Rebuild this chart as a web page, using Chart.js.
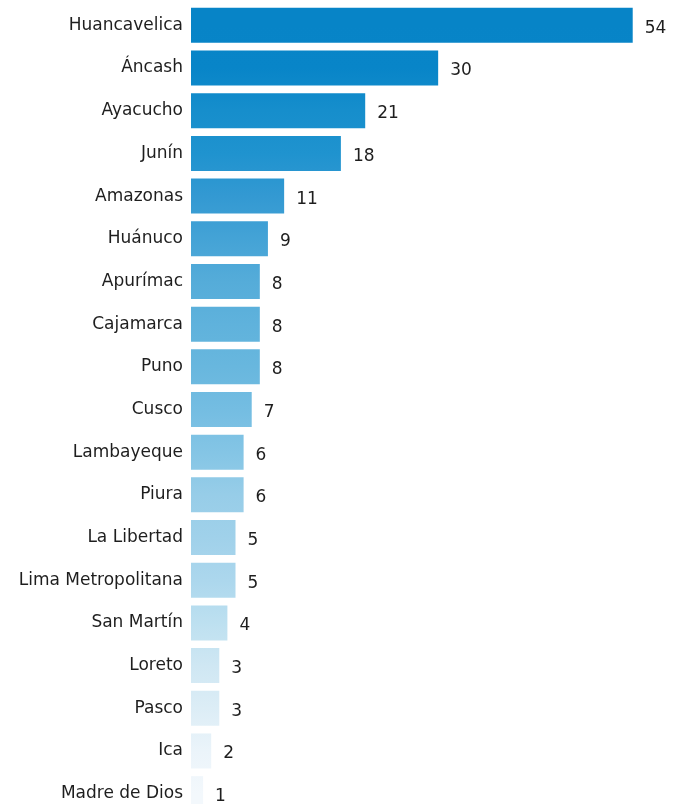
<!DOCTYPE html>
<html>
<head>
<meta charset="utf-8">
<script src="https://cdn.jsdelivr.net/npm/chart.js@4"></script>
<style>
  html, body { margin: 0; padding: 0; background: #ffffff; overflow: hidden; }
  #wrap { width: 673px; height: 820px; position: relative; }
</style>
</head>
<body>
<div id="wrap"><canvas id="c"></canvas></div>
<script>
const regions = ["Huancavelica","Áncash","Ayacucho","Junín","Amazonas","Huánuco","Apurímac","Cajamarca","Puno","Cusco","Lambayeque","Piura","La Libertad","Lima Metropolitana","San Martín","Loreto","Pasco","Ica","Madre de Dios"];
const counts = [54,30,21,18,11,9,8,8,8,7,6,6,5,5,4,3,3,2,1];
const barColors = ["#0784c7","#0885c8","#168ecc","#1f93cf","#3399d2","#44a3d6","#55acd9","#5fb2dc","#68b7de","#74bde2","#84c5e5","#97cde8","#a0d1ea","#acd7ed","#bde0f0","#cfe7f3","#dcedf6","#ebf4fa","#f3f8fc"];

const FONT = "'DejaVu Sans', sans-serif";

function gradientFill(ctx) {
  const chart = ctx.chart;
  const area = chart.chartArea;
  if (!area) return barColors[0];
  const y = chart.scales.y;
  const g = chart.ctx.createLinearGradient(0, area.top, 0, area.bottom);
  const h = area.bottom - area.top;
  barColors.forEach((c, i) => {
    let p = (y.getPixelForValue(i) - area.top) / h;
    p = Math.min(1, Math.max(0, p));
    g.addColorStop(p, c);
  });
  return g;
}

const valueLabels = {
  id: 'valueLabels',
  afterDatasetsDraw(chart) {
    const ctx = chart.ctx;
    const meta = chart.getDatasetMeta(0);
    ctx.save();
    ctx.font = "17px " + FONT;
    ctx.fillStyle = "#1e1e1e";
    ctx.textAlign = "left";
    ctx.textBaseline = "middle";
    meta.data.forEach((bar, i) => {
      ctx.fillText(String(counts[i]), bar.x + 12, bar.y + 3);
    });
    ctx.restore();
  }
};

new Chart(document.getElementById('c'), {
  type: 'bar',
  data: {
    labels: regions,
    datasets: [{
      data: counts,
      base: -0.49,
      backgroundColor: gradientFill,
      borderWidth: 0,
      barPercentage: 1,
      categoryPercentage: 0.82
    }]
  },
  options: {
    indexAxis: 'y',
    responsive: true,
    maintainAspectRatio: false,
    animation: false,
    layout: { padding: { top: 4, bottom: 5, left: 0, right: 3 } },
    plugins: { legend: { display: false }, tooltip: { enabled: false } },
    scales: {
      x: { display: false, min: -0.49, max: 58.6 },
      y: {
        afterFit(scale) { scale.width = 191; scale.paddingTop = 0; scale.paddingBottom = 0; },
        grid: { display: false, drawTicks: false },
        border: { display: false },
        ticks: { padding: 8, color: "#1e1e1e", font: { family: FONT, size: 17 } }
      }
    }
  },
  plugins: [valueLabels]
});
</script>
</body>
</html>
